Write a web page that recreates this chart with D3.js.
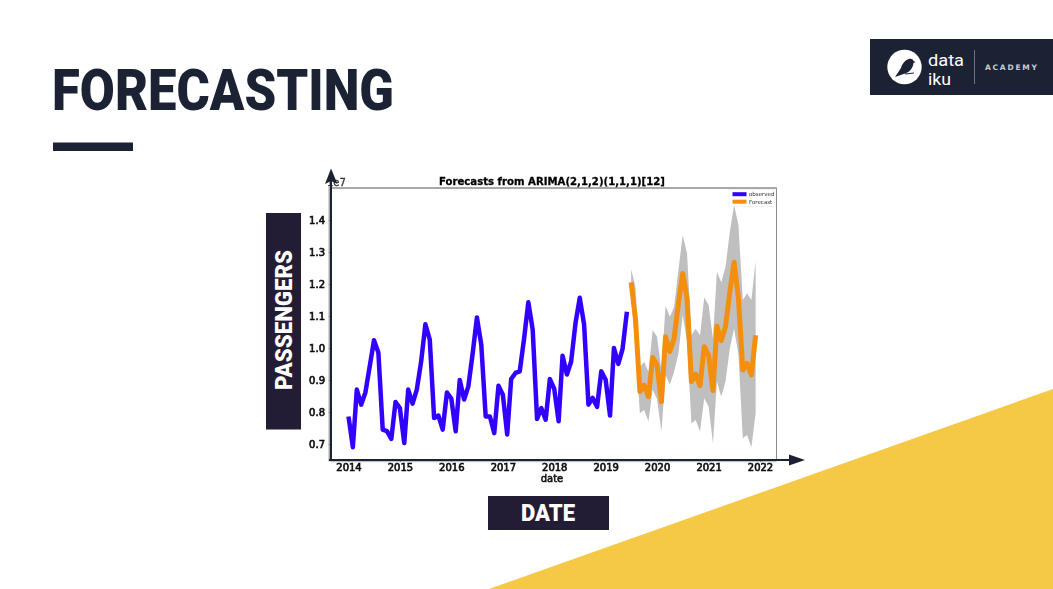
<!DOCTYPE html>
<html>
<head>
<meta charset="utf-8">
<script src="https://cdn.jsdelivr.net/npm/d3@7"></script>
<style>
  html, body { margin: 0; padding: 0; background: #fff; }
  svg { display: block; }
</style>
</head>
<body>
<div id="slide"></div>
<script>
// monthly passengers, 1e7 units, Jan 2014 .. Jun 2019
const observedStart = [2014, 0]
const observed = [
  .786, .690, .870, .823, .861, .943, 1.024, .986, .745, .740, .716, .831,
  .812, .703, .870, .826, .870, .958, 1.074, 1.026, .781, .789, .745, .861,
  .842, .740, .900, .839, .880, .984, 1.095, 1.010, .786, .786, .734, .882,
  .854, .730, .903, .922, .927, 1.030, 1.143, 1.057, .778, .812, .776, .903,
  .872, .771, .976, .917, .958, 1.078, 1.157, 1.073, .823, .844, .816, .927,
  .901, .789, 1.000, .950, .997, 1.113
]

// forecast, Jul 2019 .. Dec 2021
const forecastStart = [2019, 6]
const forecast = [
  1.205, 1.090, .864, .884, .848, .970, .947, .832, 1.035, .989, 1.030, 1.140,
  1.233, 1.155, .895, .918, .882, 1.004, .978, .867, 1.069, 1.023, 1.067, 1.176,
  1.268, 1.155, .931, .952, .916, 1.040
]
const forecastUpper = [
  1.247, 1.190, .940, .957, .926, 1.056, 1.035, .930, 1.131, 1.098, 1.128, 1.244,
  1.353, 1.295, 1.040, 1.060, 1.040, 1.158, 1.134, 1.030, 1.239, 1.205, 1.254, 1.364,
  1.447, 1.384, 1.150, 1.171, 1.150, 1.272
]
const forecastLower = [
  1.165, 1.000, .796, .806, .770, .870, .840, .739, .916, .886, .926, .983,
  1.103, 1.020, .765, .775, .739, .843, .817, .702, .895, .848, .895, .999,
  1.060, .980, .718, .728, .690, .796
]

const yearTicks = [2014, 2015, 2016, 2017, 2018, 2019, 2020, 2021, 2022]
const valueTicks = [.7, .8, .9, 1.0, 1.1, 1.2, 1.3, 1.4]
const legendLabels = ["observed", "Forecast"]

const navy = "#1b2234"
const labelBg = "#231c35"
const blue = "#3300ff"
const orange = "#f48f0b"
const band = "#bfbfbf"

let width = 1053
let height = 589

let svg = d3.select("#slide")
  .append("svg")
  .attr("width", width)
  .attr("height", height)

svg.append("rect")
  .attr("width", width)
  .attr("height", height)
  .attr("fill", "#fff")

// yellow corner
svg.append("path")
  .attr("d", "M489,589L1053,389L1053,589Z")
  .attr("fill", "#f5c946")

// heading
svg.append("text")
  .attr("x", 52)
  .attr("y", 110)
  .attr("textLength", 342)
  .attr("lengthAdjust", "spacingAndGlyphs")
  .style("font", "900 58px Roboto")
  .attr("fill", navy)
  .text("FORECASTING")

svg.append("rect")
  .attr("x", 53).attr("y", 142.5)
  .attr("width", 80).attr("height", 8.5)
  .attr("fill", navy)

// logo
let logo = svg.append("g")
logo.append("rect")
  .attr("x", 870).attr("y", 39)
  .attr("width", 183).attr("height", 56)
  .attr("fill", navy)
logo.append("circle")
  .attr("cx", 904.5).attr("cy", 67).attr("r", 17.2)
  .attr("fill", "#fff")
logo.append("path")
  .attr("d", "M895,77L901,68C902,64 905,60 909,59C911,58.500 913,59 913.500,61L915.500,62L913.500,63C913,68 910,72 905,73.500Z")
  .attr("fill", navy)
logo.append("path")
  .attr("d", "M905,74L914,73")
  .attr("stroke", navy)
  .attr("stroke-width", 1)
logo.append("text")
  .attr("x", 928).attr("y", 65.500)
  .attr("textLength", 36)
  .attr("lengthAdjust", "spacingAndGlyphs")
  .style("font", "400 16.500px Roboto")
  .attr("fill", "#fff")
  .text("data")
logo.append("text")
  .attr("x", 928).attr("y", 85)
  .attr("textLength", 23)
  .attr("lengthAdjust", "spacingAndGlyphs")
  .style("font", "400 16.500px Roboto")
  .attr("fill", "#fff")
  .text("iku")
logo.append("rect")
  .attr("x", 974).attr("y", 50)
  .attr("width", 1).attr("height", 34)
  .attr("fill", "#6d7280")
logo.append("text")
  .attr("x", 985).attr("y", 70)
  .attr("textLength", 52)
  .style("font", "700 7.500px 'DejaVu Sans'")
  .attr("fill", "#c9ccd2")
  .text("ACADEMY")

// chart
const frame = {left: 331, right: 776.5, top: 188, bottom: 460}

let defs = svg.append("defs")
defs.append("filter")
  .attr("id", "soft")
  .append("feGaussianBlur")
  .attr("stdDeviation", 0.45)

var x = d3.scaleTime()
  .domain([new Date(2014, 0, 1), new Date(2022, 0, 1)])
  .range([348.5, 760])

var y = d3.scaleLinear()
  .domain([.7, 1.4])
  .range([444, 220])

let chart = svg.append("g").attr("filter", "url(#soft)")

function monthDate(start, i) {
  return new Date(start[0], start[1] + i, 1)
}

let area = d3.area()
  .x((d, i) => x(monthDate(forecastStart, i)))
  .y0((d, i) => y(forecastLower[i]))
  .y1((d, i) => y(forecastUpper[i]))

let line = d3.line()
  .x(d => x(d.date))
  .y(d => y(d.value))

chart.append("rect")
  .attr("x", frame.left).attr("y", frame.top)
  .attr("width", frame.right - frame.left)
  .attr("height", frame.bottom - frame.top)
  .attr("fill", "none")
  .attr("stroke", "#8c8c8c")
  .attr("stroke-width", 1)

// heavier grey on the top, left and bottom edges
chart.append("path")
  .attr("d", "M" + (frame.left - 1.5) + "," + (frame.bottom + 1.5) + "V" + frame.top + "H" + frame.right)
  .attr("fill", "none")
  .attr("stroke", "#a8a8a8")
  .attr("stroke-width", 2)
chart.append("path")
  .attr("d", "M" + frame.left + "," + (frame.bottom + 1.5) + "H" + frame.right)
  .attr("stroke", "#c4c4c4")
  .attr("stroke-width", 1.5)

chart.append("path")
  .datum(forecast)
  .attr("d", area)
  .attr("fill", band)

chart.append("path")
  .datum(observed.map((v, i) => ({date: monthDate(observedStart, i), value: v})))
  .attr("d", line)
  .attr("fill", "none")
  .attr("stroke", blue)
  .attr("stroke-width", 4.500)
  .attr("stroke-linejoin", "round")

chart.append("path")
  .datum(forecast.map((v, i) => ({date: monthDate(forecastStart, i), value: v})))
  .attr("d", line)
  .attr("fill", "none")
  .attr("stroke", orange)
  .attr("stroke-width", 5)
  .attr("stroke-linejoin", "round")

let xAxis = d3.axisBottom(x)
  .tickValues(yearTicks.map(t => new Date(t, 0, 1)))
  .tickFormat(d3.timeFormat("%Y"))
  .tickSize(2)
  .tickPadding(2)

let yAxis = d3.axisLeft(y)
  .tickValues(valueTicks)
  .tickFormat(d3.format(".1f"))
  .tickSize(2)
  .tickPadding(4)

chart.append("g")
  .attr("class", "x_axis")
  .attr("transform", "translate(0," + frame.bottom + ")")
  .call(xAxis)

chart.append("g")
  .attr("class", "y_axis")
  .attr("transform", "translate(" + frame.left + ",0)")
  .call(yAxis)

chart.selectAll(".x_axis .domain, .y_axis .domain").remove()
chart.selectAll(".x_axis text, .y_axis text")
  .style("font", "400 10px 'DejaVu Sans'")
  .attr("fill", "#111")
  .attr("stroke", "#111")
  .attr("stroke-width", .65)
chart.selectAll(".x_axis line, .y_axis line").attr("stroke", "#444").attr("stroke-width", .6)

chart.append("text")
  .attr("x", 552).attr("y", 482)
  .attr("text-anchor", "middle")
  .style("font", "400 10px 'DejaVu Sans'")
  .attr("fill", "#111")
  .attr("stroke", "#111")
  .attr("stroke-width", .55)
  .text("date")

chart.append("text")
  .attr("x", 552).attr("y", 184.500)
  .attr("text-anchor", "middle")
  .attr("textLength", 226)
  .attr("lengthAdjust", "spacingAndGlyphs")
  .style("font", "700 10.500px 'DejaVu Sans'")
  .attr("fill", "#000")
  .attr("stroke", "#000")
  .attr("stroke-width", .3)
  .text("Forecasts from ARIMA(2,1,2)(1,1,1)[12]")

chart.append("text")
  .attr("x", 327).attr("y", 186)
  .style("font", "400 10px 'DejaVu Sans'")
  .attr("fill", "#333")
  .attr("stroke", "#333")
  .attr("stroke-width", .3)
  .text("1e7")

// legend
let legendColors = [blue, orange]
let legend = chart.append("g")
legend.append("rect")
  .attr("x", 729).attr("y", 189.500)
  .attr("width", 46).attr("height", 17)
  .attr("fill", "#fff")
  .attr("stroke", "#e6e6e6")
  .attr("stroke-width", .5)
legendLabels.forEach(function(name, i) {
  legend.append("rect")
    .attr("x", 732.500).attr("y", 192.200 + i * 7.500)
    .attr("width", 14).attr("height", 4)
    .attr("fill", legendColors[i])
  legend.append("text")
    .attr("x", 749).attr("y", 196.300 + i * 7.500)
    .style("font", "400 5.500px 'DejaVu Sans'")
    .attr("fill", "#333")
    .text(name)
})

// axis arrows over the picture
function arrow(x1, y1, x2, y2) {
  svg.append("line")
    .attr("x1", x1).attr("y1", y1)
    .attr("x2", x2).attr("y2", y2)
    .attr("stroke", navy)
    .attr("stroke-width", 2)
}
arrow(331, 461, 331, 178)
arrow(329, 460, 794, 460)
svg.append("path")
  .attr("d", "M331,168.500L337.500,184L331,181L325,184Z")
  .attr("fill", navy)
svg.append("path")
  .attr("d", "M805,460L789,454.500L789,465.500Z")
  .attr("fill", navy)

// axis label boxes
svg.append("rect")
  .attr("x", 266).attr("y", 213)
  .attr("width", 35).attr("height", 216.500)
  .attr("fill", labelBg)
svg.append("text")
  .attr("transform", "translate(291.500,320) rotate(-90)")
  .attr("text-anchor", "middle")
  .attr("textLength", 140)
  .attr("lengthAdjust", "spacingAndGlyphs")
  .style("font", "900 24px Roboto")
  .attr("fill", "#fff")
  .text("PASSENGERS")

svg.append("rect")
  .attr("x", 488).attr("y", 496)
  .attr("width", 121).attr("height", 34)
  .attr("fill", labelBg)
svg.append("text")
  .attr("x", 548).attr("y", 521)
  .attr("text-anchor", "middle")
  .attr("textLength", 54)
  .attr("lengthAdjust", "spacingAndGlyphs")
  .style("font", "900 24px Roboto")
  .attr("fill", "#fff")
  .text("DATE")
</script>
</body>
</html>
